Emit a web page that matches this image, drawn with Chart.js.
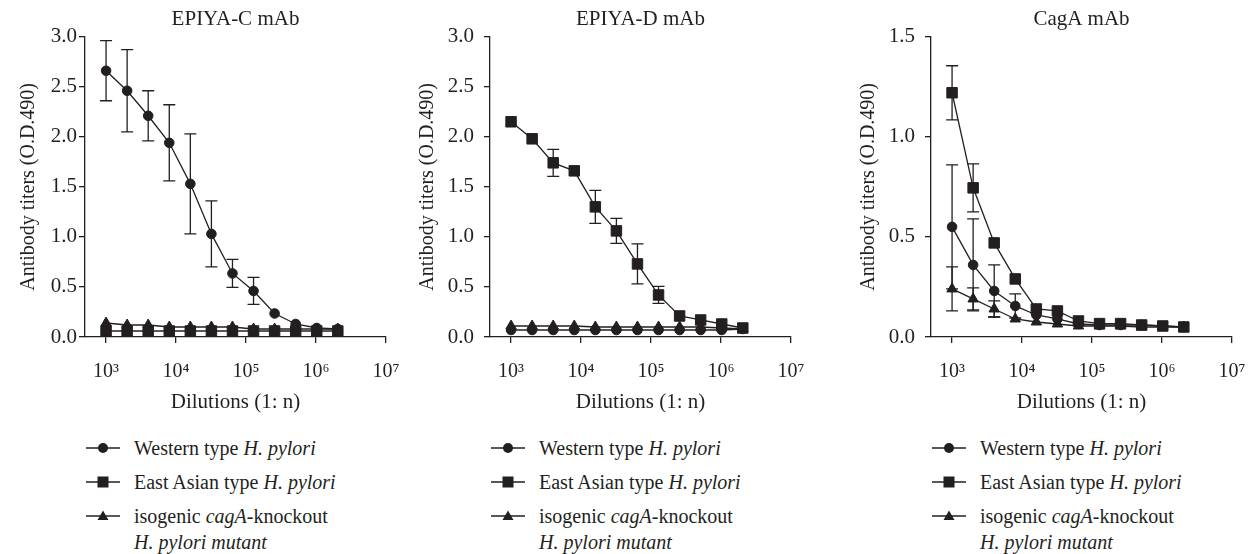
<!DOCTYPE html>
<html>
<head>
<meta charset="utf-8">
<script src="https://cdn.jsdelivr.net/npm/chart.js@4.4.1/dist/chart.umd.min.js"></script>
<style>
  html, body { margin: 0; padding: 0; background: #fff; }
  #stage {
    position: relative; width: 1254px; height: 554px; overflow: hidden;
    font-family: 'Liberation Serif', 'Times New Roman', serif; color: #231f20;
  }
  #stage canvas { position: absolute; top: 0; }
  .legend { position: absolute; top: 435px; font-size: 20px; line-height: 26px; white-space: nowrap; }
  .legend .row { display: flex; align-items: flex-start; margin-bottom: 8px; }
  .legend svg { flex: none; margin-top: 6px; margin-right: 14px; }
</style>
</head>
<body>
<div id="stage">
  <canvas id="chartC" width="425" height="420"></canvas>
  <canvas id="chartD" width="425" height="420"></canvas>
  <canvas id="chartA" width="425" height="420"></canvas>
  <div class="legend" id="legendC"></div>
  <div class="legend" id="legendD"></div>
  <div class="legend" id="legendA"></div>
</div>
<script>
'use strict';

// ─── Data ─────────────────────────────────────────────────────────────────────

const dilutions   = [1000, 2000, 4000, 8000, 16000, 32000, 64000, 128000, 256000, 512000, 1024000, 2048000];
const xTickValues = [1e3, 1e4, 1e5, 1e6, 1e7];
const xTickLabels = ['10³', '10⁴', '10⁵', '10⁶', '10⁷'];

const seriesNames = [
  'Western type <i>H. pylori</i>',
  'East Asian type <i>H. pylori</i>',
  'isogenic <i>cagA</i>-knockout<br><i>H. pylori mutant</i>',
];

// EPIYA-C mAb
const cWestern     = [2.66, 2.46, 2.21, 1.94, 1.53, 1.03, 0.635, 0.46, 0.235, 0.13, 0.09, 0.08];
const cWesternSd   = [0.30, 0.41, 0.25, 0.38, 0.50, 0.33, 0.14, 0.135, 0, 0, 0, 0];
const cEastAsian   = [0.06, 0.06, 0.06, 0.06, 0.06, 0.06, 0.06, 0.06, 0.06, 0.06, 0.06, 0.06];
const cKnockout    = [0.14, 0.12, 0.12, 0.10, 0.10, 0.10, 0.10, 0.08, 0.08, 0.08, 0.08, 0.08];

// EPIYA-D mAb
const dWestern     = [0.07, 0.07, 0.07, 0.07, 0.07, 0.07, 0.07, 0.07, 0.07, 0.07, 0.07, 0.08];
const dEastAsian   = [2.15, 1.98, 1.74, 1.66, 1.30, 1.06, 0.73, 0.42, 0.21, 0.17, 0.13, 0.09];
const dEastAsianSd = [0, 0, 0.135, 0, 0.165, 0.125, 0.20, 0.085, 0, 0, 0, 0];
const dKnockout    = [0.11, 0.11, 0.11, 0.11, 0.10, 0.10, 0.10, 0.10, 0.10, 0.10, 0.09, 0.08];

// CagA mAb
const aWestern     = [0.55, 0.36, 0.23, 0.155, 0.11, 0.09, 0.065, 0.06, 0.06, 0.06, 0.055, 0.05];
const aWesternSd   = [0.31, 0.23, 0.13, 0.06, 0, 0, 0, 0, 0, 0, 0, 0];
const aEastAsian   = [1.22, 0.745, 0.47, 0.29, 0.14, 0.13, 0.08, 0.067, 0.067, 0.06, 0.055, 0.05];
const aEastAsianSd = [0.135, 0.12, 0, 0, 0, 0, 0, 0, 0, 0, 0, 0];
const aKnockout    = [0.24, 0.19, 0.14, 0.09, 0.075, 0.065, 0.055, 0.055, 0.055, 0.05, 0.05, 0.05];
const aKnockoutSd  = [0.11, 0.055, 0.04, 0, 0, 0, 0, 0, 0, 0, 0, 0];

// ─── Style ────────────────────────────────────────────────────────────────────

const INK   = '#231f20';
const FONT  = "'Liberation Serif', 'Times New Roman', serif";
const marks = [
  { style: 'circle',   radius: 4.8 },
  { style: 'rect',     radius: 7.4 },
  { style: 'triangle', radius: 6.0 },
];

Chart.defaults.font.family = FONT;
Chart.defaults.color = INK;

// ─── Error bars ───────────────────────────────────────────────────────────────

const errorBarPlugin = {
  id: 'errorBars',
  beforeDatasetsDraw(chart) {
    const { ctx, scales: { x, y } } = chart;
    ctx.save();
    ctx.strokeStyle = INK;
    ctx.lineWidth = 1.3;
    chart.data.datasets.forEach((ds) => {
      if (!ds.errorBars) return;
      ds.data.forEach((pt, i) => {
        const sd = ds.errorBars[i];
        if (!sd) return;
        const px  = x.getPixelForValue(pt.x);
        const top = y.getPixelForValue(pt.y + sd);
        const bot = y.getPixelForValue(pt.y - sd);
        ctx.beginPath();
        ctx.moveTo(px, top); ctx.lineTo(px, bot);
        ctx.moveTo(px - 6, top); ctx.lineTo(px + 6, top);
        ctx.moveTo(px - 6, bot); ctx.lineTo(px + 6, bot);
        ctx.stroke();
      });
    });
    ctx.restore();
  },
};

// ─── Panels ───────────────────────────────────────────────────────────────────

const panels = [
  {
    id: 'chartC', legend: 'legendC', title: 'EPIYA-C mAb', yMax: 3, axisX: 85, yTitlePad: 21.5, yTickPad: 2,
    series: [[cWestern, cWesternSd], [cEastAsian, null], [cKnockout, null]],
  },
  {
    id: 'chartD', legend: 'legendD', title: 'EPIYA-D mAb', yMax: 3, axisX: 490, yTitlePad: 16, yTickPad: 10,
    series: [[dWestern, null], [dEastAsian, dEastAsianSd], [dKnockout, null]],
  },
  {
    id: 'chartA', legend: 'legendA', title: 'CagA mAb', yMax: 1.5, axisX: 931, yTitlePad: 15.5, yTickPad: 10,
    series: [[aWestern, aWesternSd], [aEastAsian, aEastAsianSd], [aKnockout, aKnockoutSd]],
  },
];

function buildPanel(p) {
  const canvas = document.getElementById(p.id);
  canvas.style.left = (p.axisX - 90) + 'px';

  const datasets = p.series.map(([values, sd], k) => ({
    label: seriesNames[k],
    data: dilutions.map((d, i) => ({ x: d, y: values[i] })),
    errorBars: sd,
    borderColor: INK,
    borderWidth: 1.3,
    pointStyle: marks[k].style,
    pointRadius: marks[k].radius,
    pointBackgroundColor: INK,
    pointBorderColor: INK,
    pointBorderWidth: 1,
    tension: 0,
    clip: false,
  }));

  new Chart(canvas, {
    type: 'line',
    data: { datasets },
    plugins: [errorBarPlugin],
    options: {
      responsive: false,
      animation: false,
      events: [],
      // right padding leaves room for the last tick label plus its padding
      layout: { padding: { left: 0, right: 34, top: 0, bottom: 0 } },
      plugins: {
        legend: { display: false },
        tooltip: { enabled: false },
        title: {
          display: true,
          text: p.title,
          fullSize: false,
          color: INK,
          font: { size: 21, weight: 'normal' },
          padding: { top: 7, bottom: 4.5 },
        },
      },
      scales: {
        x: {
          type: 'logarithmic',
          min: 500,
          max: 1e7,
          afterFit: (s) => { s.height = 83; },
          afterBuildTicks: (s) => { s.ticks = xTickValues.map((v) => ({ value: v })); },
          grid: { drawOnChartArea: false, drawTicks: true, tickLength: 6, color: INK, lineWidth: 1.3 },
          border: { display: true, color: INK, width: 1.3 },
          ticks: {
            autoSkip: false, maxRotation: 0, padding: 17, color: INK,
            font: { size: 20 },
            callback: (v, i) => xTickLabels[i],
          },
          title: {
            display: true, text: 'Dilutions (1: n)', color: INK,
            font: { size: 21 }, padding: { top: 0, bottom: 5 },
          },
        },
        y: {
          type: 'linear',
          min: 0,
          max: p.yMax,
          afterFit: (s) => { s.width = 90; },
          grid: { drawOnChartArea: false, drawTicks: true, tickLength: 6, color: INK, lineWidth: 1.3 },
          border: { display: true, color: INK, width: 1.3 },
          ticks: {
            stepSize: 0.5, padding: p.yTickPad, color: INK,
            font: { size: 21 },
            callback: (v) => v.toFixed(1),
          },
          title: {
            display: true, text: 'Antibody titers (O.D.490)', color: INK,
            font: { size: 20 }, padding: { top: p.yTitlePad, bottom: 0 },
          },
        },
      },
    },
  });

  renderLegend(p);
}

// ─── Legend ───────────────────────────────────────────────────────────────────

function markerSvg(k) {
  let shape;
  if (k === 0) shape = `<circle cx="17" cy="7" r="5" fill="${INK}"/>`;
  else if (k === 1) shape = `<rect x="11.5" y="1.5" width="11" height="11" fill="${INK}"/>`;
  else shape = `<polygon points="17,1.5 22.5,11 11.5,11" fill="${INK}"/>`;
  return `<svg width="34" height="14" viewBox="0 0 34 14">
    <line x1="0" y1="7" x2="34" y2="7" stroke="${INK}" stroke-width="1.3"/>${shape}</svg>`;
}

function renderLegend(p) {
  const el = document.getElementById(p.legend);
  el.style.left = (p.axisX + 1) + 'px';
  el.innerHTML = seriesNames.map((name, k) =>
    `<div class="row">${markerSvg(k)}<div>${name}</div></div>`
  ).join('');
}

panels.forEach(buildPanel);
</script>
</body>
</html>
